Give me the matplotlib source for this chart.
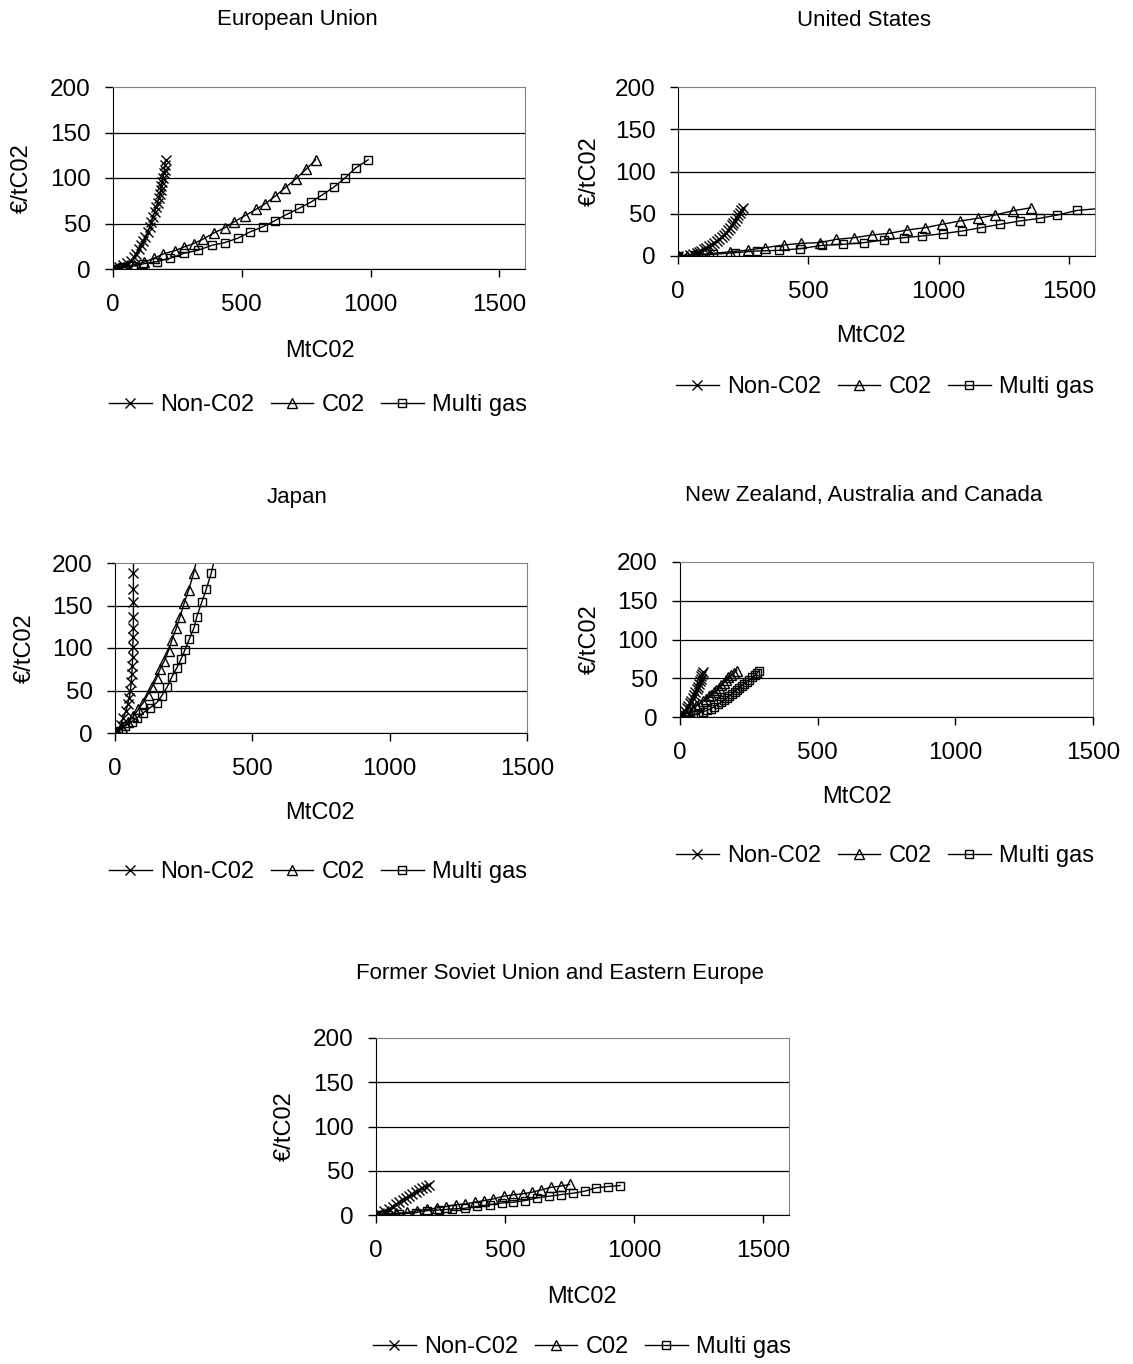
import matplotlib
matplotlib.use("Agg")
import matplotlib.pyplot as plt

plt.rcParams['font.family'] = ['Liberation Sans', 'DejaVu Sans']

W, H = 1133, 1364

### Data (MtCO2 abated, price in EUR/tCO2)
seriesNames = ["Non-C02", "C02", "Multi gas"]
yTicks = [0, 50, 100, 150, 200]
xTicks = [0, 500, 1000, 1500]

# European Union
eu_non_x = [0, 12, 25, 39, 55, 71, 81, 90, 100, 110, 118, 126, 134, 142, 149, 155, 162, 168, 173, 178, 182, 185, 188, 191, 194, 197, 200, 202, 204]
eu_non_y = [0, 1, 2.5, 4, 6.5, 9, 13, 17, 21.5, 26, 30.5, 35, 40.5, 46, 51.5, 57, 63, 68.5, 73, 78, 82.5, 87, 91.5, 96, 100.5, 105, 109, 114, 120]
eu_co2_x = [0, 20, 45, 80, 120, 161, 196, 239, 274, 314, 351, 394, 436, 471, 512, 555, 590, 630, 667, 710, 751, 787]
eu_co2_y = [0, 1, 2.5, 4.5, 7.4, 12, 16.7, 20, 24, 28, 33, 40, 45.5, 52, 58.5, 65.5, 71.5, 80, 89, 99, 110, 120]
eu_multi_x = [0, 39, 77, 116, 170, 223, 277, 329, 383, 434, 486, 532, 581, 628, 675, 723, 770, 813, 858, 901, 942, 991]
eu_multi_y = [0, 2, 3, 5.6, 8.1, 11.9, 17.4, 20.4, 26, 29, 34, 40.7, 46.3, 53, 60, 66.7, 73.7, 81.5, 90, 100, 111, 120]

# United States
us_non_x = [0, 20, 45, 58, 71, 80, 90, 100, 109, 119, 129, 138, 148, 158, 167, 176, 184, 192, 199, 206, 212, 219, 225, 231, 238, 243, 248]
us_non_y = [0, 0.5, 1.2, 2, 3.2, 4.5, 5.9, 8, 9.9, 11.5, 13, 15.5, 17.8, 20, 22.5, 25, 27.6, 30.5, 33.5, 36.5, 39.4, 42, 45, 48, 51, 54, 57]
us_co2_x = [0, 64, 122, 199, 270, 334, 405, 473, 544, 607, 677, 745, 810, 880, 948, 1013, 1082, 1150, 1215, 1285, 1353]
us_co2_y = [0, 1.2, 2.8, 5, 7, 9.9, 13, 15, 15.8, 19.7, 21.7, 24.9, 26.8, 30.8, 33.5, 37.5, 41.4, 44.6, 48.5, 53.5, 57]
us_multi_x = [0, 64, 135, 218, 302, 389, 469, 553, 632, 713, 790, 867, 938, 1015, 1090, 1163, 1236, 1311, 1388, 1456, 1532, 1650]
us_multi_y = [0, 1, 2, 3.9, 5.9, 6.7, 8.7, 12.6, 13.8, 15.8, 18.9, 21.7, 23.7, 26.4, 29.6, 33.5, 37.5, 41.4, 44.6, 48.5, 54, 57]

# Japan
jp_non_x = [0, 10, 21, 30, 40, 46, 52, 56, 59, 61, 63, 64, 65, 66, 67, 67, 67, 67, 67, 68]
jp_non_y = [0, 4, 9.9, 17.9, 25.8, 33.7, 41.7, 49.6, 59.5, 69, 79, 89, 101, 113, 124, 137, 154, 169, 187.7, 215]
jp_co2_x = [0, 24, 49, 67, 85, 103, 119, 134, 152, 164, 179, 195, 207, 223, 237, 252, 268, 286, 303]
jp_co2_y = [0, 6, 13, 19.8, 27.8, 35.7, 44.8, 53.6, 64.7, 75, 84.5, 97, 109, 123, 137, 153, 168, 187.7, 212]
jp_multi_x = [0, 12, 36, 61, 79, 103, 128, 152, 170, 189, 207, 225, 240, 255, 271, 288, 298, 316, 332, 350, 368]
jp_multi_y = [0, 2, 8, 13, 17.9, 23.8, 29.8, 35.7, 43.7, 53.6, 66, 76.6, 86.5, 98, 111, 124, 137, 154, 169, 187.7, 212]

# New Zealand, Australia and Canada
nz_non_x = [0, 6, 12, 18, 24, 30, 36, 41, 46, 51, 56, 60, 64, 68, 72, 75, 78, 80, 82]
nz_non_y = [0, 2.5, 5, 8, 11, 14, 17.5, 21, 24.5, 28, 32, 35.5, 39, 42.5, 46, 49.5, 53, 55.5, 58]
nz_co2_x = [0, 12, 22, 34, 46, 58, 70, 82, 95, 104, 113, 122, 131, 140, 149, 158, 167, 176, 185, 196, 206]
nz_co2_y = [0, 2, 4.3, 7.5, 10.8, 14, 17.3, 20.5, 23.8, 26.5, 29, 32, 34.5, 38, 41, 44, 47.5, 51, 54, 57, 60]
nz_multi_x = [0, 20, 46, 64, 82, 98, 113, 125, 137, 149, 161, 170, 179, 189, 198, 207, 216, 225, 234, 243, 252, 263, 274, 281, 288]
nz_multi_y = [0, 1, 2.2, 4.2, 6.5, 8.5, 10.8, 13.5, 16.4, 19, 21.6, 24.2, 26.8, 29.6, 32.4, 35.2, 38, 40.5, 43, 45.2, 47.5, 51, 54, 57, 60]

# Former Soviet Union and Eastern Europe
fsu_non_x = [0, 13, 32, 51, 64, 77, 90, 103, 115, 128, 141, 154, 167, 179, 192, 205]
fsu_non_y = [0, 1.9, 4.9, 6.8, 9.5, 12.5, 14.4, 17, 19.3, 22, 23.9, 25.8, 28.4, 30.7, 32, 34]
fsu_co2_x = [0, 38, 77, 122, 160, 199, 237, 272, 310, 346, 382, 419, 455, 494, 529, 568, 605, 641, 679, 715, 750]
fsu_co2_y = [0, 1, 1.9, 3, 4.9, 6.4, 8, 9.5, 11.7, 12.5, 14.4, 16.3, 18.2, 21.2, 22.7, 23.9, 25.8, 28.4, 31.4, 32.6, 34.5]
fsu_multi_x = [0, 45, 90, 154, 199, 246, 295, 344, 391, 440, 487, 532, 577, 624, 671, 718, 763, 810, 853, 900, 946]
fsu_multi_y = [0, 0.5, 1, 2.7, 4.9, 5.7, 6.8, 7.6, 9.8, 11.7, 13.6, 14.4, 16.3, 19.3, 21.2, 23.1, 24.6, 27, 30.7, 32.2, 33.3]

### Marker styles per series
styles = [
    dict(marker='x', markersize=7.5, markeredgewidth=1.0),
    dict(marker='^', markersize=6.5, markeredgewidth=1.0, markerfacecolor='none'),
    dict(marker='s', markersize=5.5, markeredgewidth=1.0, markerfacecolor='none'),
]


def ftext(fig, x, y, s, **kw):
    # place text using pixel coords of the full picture
    fig.text(x / W, 1 - y / H, s, ha='center', va='center', **kw)


def plotPanel(fig, box, xmax, title, titlePos, xlabPos, ylabX, legPos, data):
    left, top, right, bottom = box
    ax = fig.add_axes([left / W, 1 - bottom / H, (right - left) / W, (bottom - top) / H])
    handles = []
    for (xs, ys), st, name in zip(data, styles, seriesNames):
        h, = ax.plot(xs, ys, color='black', linewidth=1.0, label=name, **st)
        handles.append(h)
    ax.set_xlim(0, xmax)
    ax.set_ylim(0, 200)
    ax.set_xticks(xTicks)
    ax.set_yticks(yTicks)
    ax.tick_params(axis='both', direction='out', length=5.5, width=1, labelsize=17.5, color='black')
    ax.tick_params(axis='x', pad=12.5)
    ax.tick_params(axis='y', pad=10.5)
    ax.yaxis.grid(True, color='black', linewidth=0.9)
    ax.get_ygridlines()[-1].set_visible(False)
    ax.set_axisbelow(True)
    for s in ['top', 'right']:
        ax.spines[s].set_color('#808080')
    for s in ['left', 'bottom']:
        ax.spines[s].set_color('black')
    ftext(fig, titlePos[0], titlePos[1], title, fontsize=16)
    ftext(fig, xlabPos[0], xlabPos[1], "MtC02", fontsize=17)
    ftext(fig, ylabX, (top + bottom) / 2, "€/tC02", fontsize=17, rotation=90)
    fig.legend(handles, seriesNames, loc='center', bbox_to_anchor=(legPos[0] / W, 1 - legPos[1] / H),
               ncol=3, frameon=False, fontsize=17, handlelength=1.8, handletextpad=0.35,
               columnspacing=0.7, borderpad=0, borderaxespad=0)
    return ax


def main():
    fig = plt.figure(figsize=(W / 100, H / 100), dpi=100)
    plotPanel(fig, (113, 87, 525, 269), 1600, "European Union", (297, 20), (320, 351), 22, (318, 405),
              [(eu_non_x, eu_non_y), (eu_co2_x, eu_co2_y), (eu_multi_x, eu_multi_y)])
    plotPanel(fig, (678, 87, 1095, 256), 1600, "United States", (864, 20), (871, 336), 590, (885, 387),
              [(us_non_x, us_non_y), (us_co2_x, us_co2_y), (us_multi_x, us_multi_y)])
    plotPanel(fig, (115, 563, 527, 733), 1500, "Japan", (297, 497), (320, 813), 25, (318, 872),
              [(jp_non_x, jp_non_y), (jp_co2_x, jp_co2_y), (jp_multi_x, jp_multi_y)])
    plotPanel(fig, (680, 562, 1093, 717), 1500, "New Zealand, Australia and Canada", (864, 495), (857, 797), 590, (885, 856),
              [(nz_non_x, nz_non_y), (nz_co2_x, nz_co2_y), (nz_multi_x, nz_multi_y)])
    plotPanel(fig, (376, 1038, 789, 1215), 1600, "Former Soviet Union and Eastern Europe", (560, 973), (582, 1297), 285, (582, 1347),
              [(fsu_non_x, fsu_non_y), (fsu_co2_x, fsu_co2_y), (fsu_multi_x, fsu_multi_y)])
    fig.savefig("out.png", dpi=100)


if __name__ == "__main__":
    main()
